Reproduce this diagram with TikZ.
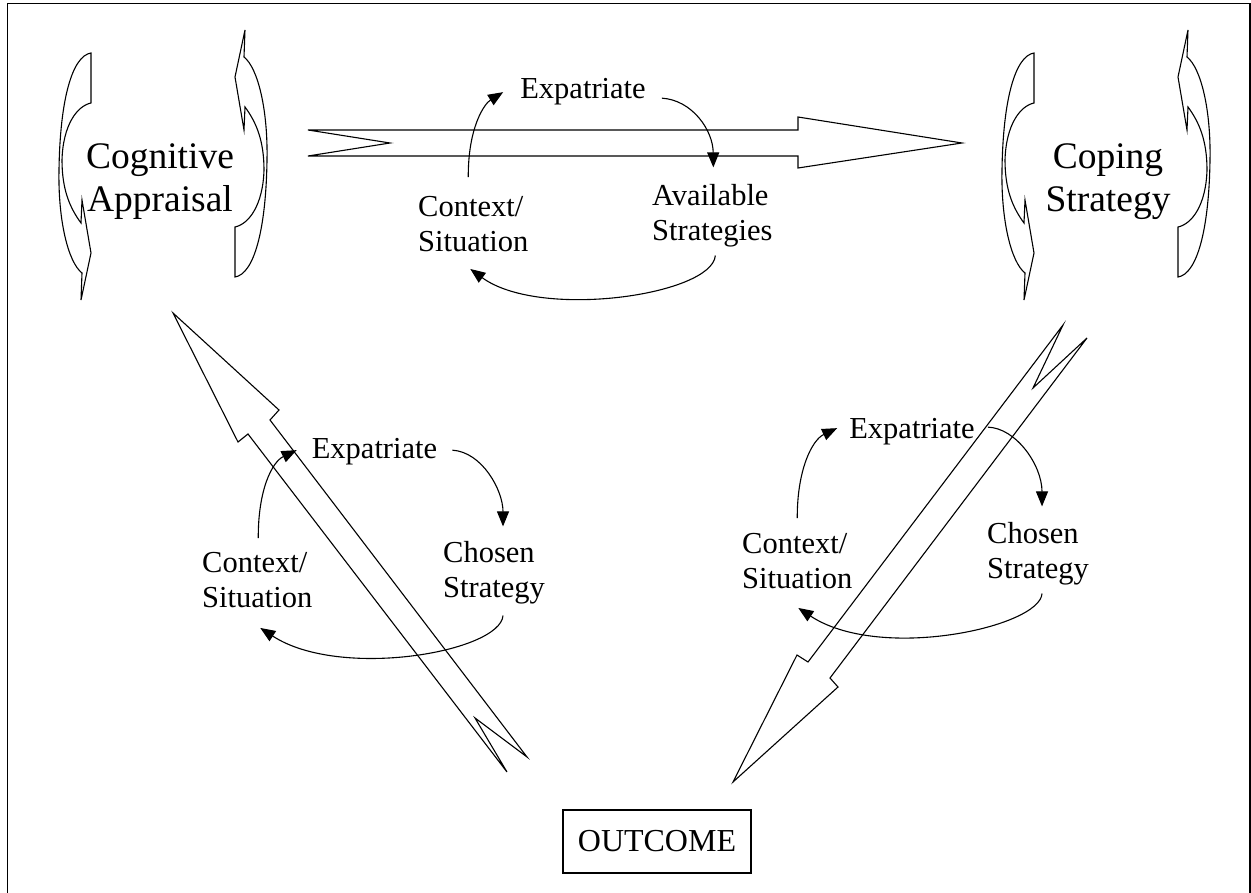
\documentclass[tikz,border=0pt]{standalone}
\usepackage{fontspec}
\setmainfont{Liberation Serif}
\usetikzlibrary{arrows.meta,calc}
\tikzset{
  lbl/.style={font=\fontsize{30.5}{35}\selectfont, inner sep=0pt, align=left},
  bigtext/.style={font=\fontsize{37.5}{43}\selectfont, inner sep=0pt, align=center},
  cyc/.style={line width=1.1pt, -{Triangle[length=15pt,width=12pt]}},
  blockarrow/.style={line width=1.1pt, line join=miter},
  curlyshape/.pic={
    \draw[blockarrow] (91,53) .. controls (72,56) and (60,100) .. (59,170)
      .. controls (58,220) and (68,262) .. (82,273)
      -- (81,300) -- (91,253) -- (82,200) -- (81,223)
      .. controls (70,208) and (62,190) .. (62,160)
      .. controls (63,125) and (77,106) .. (91,103) -- cycle;
  }
}
\begin{document}
\begin{tikzpicture}[x=1pt,y=-1pt]
\useasboundingbox (0,0) rectangle (1251,893);
% frame
\draw[line width=1.5pt] (7.5,930) -- (7.5,3.5) -- (1250,3.5) -- (1250,930);

% curly arrows
\pic at (0,0) {curlyshape};
\pic[rotate=180] at (326,330) {curlyshape};
\pic at (943,0) {curlyshape};
\pic[rotate=180] at (1269,330) {curlyshape};

% main labels
\node[bigtext] (cog) at (160,181.4) {Cognitive\\Appraisal};
\node[bigtext] (cop) at (1108,181.4) {Coping\\Strategy};
\node[draw, line width=1.8pt, minimum width=188pt, minimum height=63pt,
      font=\fontsize{32}{38}\selectfont, inner sep=0pt] (out) at (657,841.5) {OUTCOME};

% block arrows
\draw[blockarrow] (308,130) -- (798,130) -- (798,117) -- (962,143) -- (798,168)
  -- (798,156) -- (308,156) -- (390,143) -- cycle;
\draw[blockarrow] (173,313) -- (279,410) -- (270,420) -- (527,757) -- (475,718)
  -- (507,772) -- (248,434) -- (238,442) -- cycle;
\draw[blockarrow] (1063,325) -- (1033,388) -- (1087,338) -- (830,678) -- (838,687)
  -- (733,782) -- (797,655) -- (808,662) -- cycle;

% top cycle
\node[lbl, anchor=base] (expA) at (583,99) {Expatriate};
\node[lbl, anchor=west] (ctxA) at (418,224) {Context/\\Situation};
\node[lbl, anchor=west] (avA) at (652,216) {Available\\Strategies};
\draw[cyc] ($(ctxA.north)+(-5,-19)$) .. controls (468,128) and (484,104) .. ($(expA.west)+(-17,0)$);
\draw[cyc] ($(expA.east)+(16,6)$) .. controls (692,100) and (713,130) .. ($(avA.north)+(1,-17)$);
\draw[cyc] ($(avA.south)+(3,8)$) .. controls (712,295) and (540,320) .. ($(ctxA.south)+(-3,17)$);

% left cycle
\node[lbl, anchor=base] (expB) at (374.5,458) {Expatriate};
\node[lbl, anchor=west] (ctxB) at (202,580) {Context/\\Situation};
\node[lbl, anchor=west] (chB) at (443,573) {Chosen\\Strategy};
\draw[cyc] ($(ctxB.north)+(1,-14)$) .. controls (258,490) and (272,462) .. ($(expB.west)+(-15,-1)$);
\draw[cyc] ($(expB.east)+(15,-1)$) .. controls (482,452) and (503,490) .. ($(chB.north)+(9,-15)$);
\draw[cyc] ($(chB.south)+(9,11)$) .. controls (500,652) and (340,680) .. ($(ctxB.south)+(3,20)$);

% right cycle
\node[lbl, anchor=base] (expC) at (912,438) {Expatriate};
\node[lbl, anchor=west] (ctxC) at (742,561.5) {Context/\\Situation};
\node[lbl, anchor=west] (chC) at (987,554) {Chosen\\Strategy};
\draw[cyc] ($(ctxC.north)+(0,-15.5)$) .. controls (797,470) and (812,440) .. ($(expC.west)+(-12,-3)$);
\draw[cyc] ($(expC.east)+(13,-4)$) .. controls (1016,428) and (1042,465) .. ($(chC.north)+(4,-16)$);
\draw[cyc] ($(chC.south)+(4,8)$) .. controls (1040,627) and (880,662) .. ($(ctxC.south)+(1,18.5)$);
\end{tikzpicture}
\end{document}
